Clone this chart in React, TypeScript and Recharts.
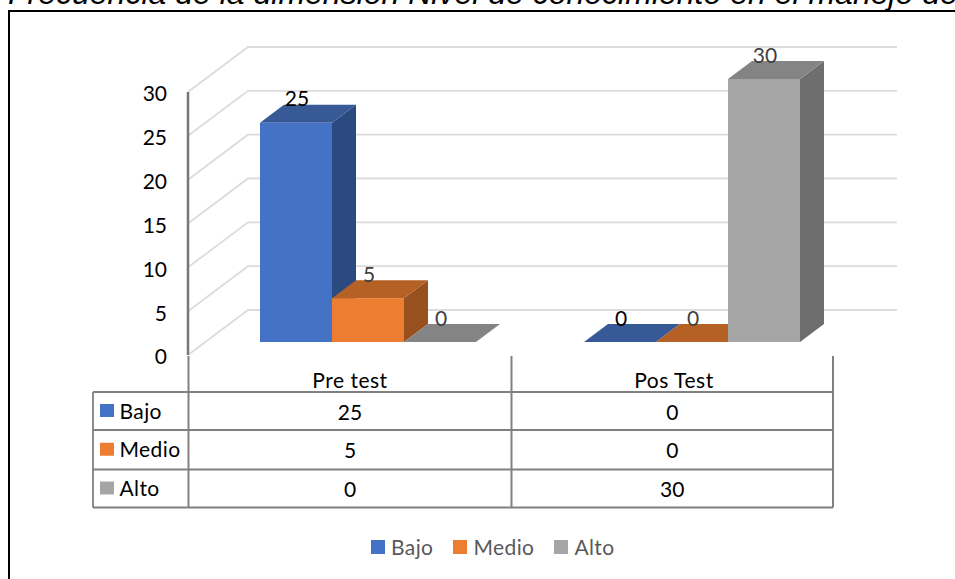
import { BarChart, Bar, XAxis, YAxis, CartesianGrid, LabelList, Legend } from "recharts";

const categories = ["Pre test", "Pos Test"];
const bajo = [25, 0];
const medio = [5, 0];
const alto = [0, 30];
const yTicks = [0, 5, 10, 15, 20, 25, 30];
const titleText = "Frecuencia de la dimensión Nivel de conocimiento en el manejo de";

const series = [
  { key: "Bajo", values: bajo, front: "#4472C4", top: "#375A96", side: "#2B4A80", label: "#000000" },
  { key: "Medio", values: medio, front: "#ED7D31", top: "#B56024", side: "#98511E", label: "#404040" },
  { key: "Alto", values: alto, front: "#A5A5A5", top: "#848484", side: "#6E6E6E", label: "#404040" },
];

const chartData = categories.map((name, i) => ({
  name,
  Bajo: bajo[i],
  Medio: medio[i],
  Alto: alto[i],
}));

const FONT = "Lato, sans-serif";
const FONT_SIZE = 21;
const TABLE_LINE = "#808080";

// 3D look: bars sit part way into the floor, the grid lines sit on the back wall
const BAR_DX = 18;
const BAR_DY = -13;
const DEPTH_X = 24;
const DEPTH_Y = 18;
const WALL_DX = 60;
const WALL_DY = -45;
const GRID_END = 897;

function makeBox(top: string, side: string) {
  return function Box(props: any) {
    const { x, y, width, height, fill } = props;
    const l = x + BAR_DX;
    const r = l + width;
    const t = y + BAR_DY;
    const b = t + height;
    return (
      <g>
        <polygon points={`${r},${t} ${r + DEPTH_X},${t - DEPTH_Y} ${r + DEPTH_X},${b - DEPTH_Y} ${r},${b}`} fill={side} />
        <polygon points={`${l},${t} ${l + DEPTH_X},${t - DEPTH_Y} ${r + DEPTH_X},${t - DEPTH_Y} ${r},${t}`} fill={top} />
        <rect x={l} y={t} width={width} height={height} fill={fill} />
      </g>
    );
  };
}

function makeBarLabel(color: string) {
  return function BarLabel(props: any) {
    const { x, y, width, value } = props;
    return (
      <text
        x={x + width / 2 + BAR_DX + 1}
        y={y + BAR_DY - 25}
        textAnchor="middle"
        dominantBaseline="central"
        fontFamily={FONT}
        fontSize={FONT_SIZE}
        fill={color}
      >
        {value}
      </text>
    );
  };
}

function WallLine(props: any) {
  const { x1, y1 } = props;
  return (
    <polyline
      points={`${x1},${y1} ${x1 + WALL_DX},${y1 + WALL_DY} ${GRID_END},${y1 + WALL_DY}`}
      fill="none"
      stroke="#DCDCDC"
      strokeWidth={1.8}
    />
  );
}

const tableLeft = 93;
const colX = [188.5, 511.5, 833];
const rowY = [392, 430, 469.5, 507.5];
const tableTop = 356;

function DataTable() {
  return (
    <g fontFamily={FONT} fontSize={FONT_SIZE} fill="#000000">
      {rowY.map((y) => (
        <line key={y} x1={tableLeft} x2={colX[2]} y1={y} y2={y} stroke={TABLE_LINE} strokeWidth={2} />
      ))}
      <line x1={tableLeft} x2={tableLeft} y1={rowY[0]} y2={rowY[3]} stroke={TABLE_LINE} strokeWidth={1.8} />
      {colX.map((x) => (
        <line key={x} x1={x} x2={x} y1={tableTop} y2={rowY[3]} stroke={TABLE_LINE} strokeWidth={2} />
      ))}
      {series.map((s, i) => {
        const cy = (rowY[i] + rowY[i + 1]) / 2;
        return (
          <g key={s.key}>
            <rect x={100} y={cy - 7} width={14} height={13} fill={s.front} />
            <text x={119.5} y={cy - 1} dominantBaseline="central" letterSpacing={0.4}>{s.key}</text>
            {s.values.map((v, j) => (
              <text key={j} x={(colX[j] + colX[j + 1]) / 2} y={cy} textAnchor="middle" dominantBaseline="central">
                {v}
              </text>
            ))}
          </g>
        );
      })}
    </g>
  );
}

function ChartLegend({ payload }: any) {
  return (
    <div style={{ display: "flex", fontFamily: FONT, fontSize: FONT_SIZE, letterSpacing: 0.4, color: "#595959", lineHeight: "26px" }}>
      {(payload || []).map((item: any) => (
        <div key={item.value} style={{ display: "flex", alignItems: "center", marginRight: 20 }}>
          <span style={{ width: 14, height: 14, background: item.color, marginRight: 6 }} />
          {item.value}
        </div>
      ))}
    </div>
  );
}

export default function App() {
  return (
    <div style={{ position: "fixed", left: 0, top: 0, width: 955, height: 579, overflow: "hidden", background: "#fff" }}>
      <div
        style={{
          position: "absolute",
          left: 8,
          top: -25,
          whiteSpace: "nowrap",
          fontFamily: "'Liberation Sans', sans-serif",
          fontStyle: "italic",
          fontSize: 32,
          color: "#000",
        }}
      >
        {titleText}
      </div>
      <div
        style={{
          position: "absolute",
          left: 8,
          top: 10,
          width: 960,
          height: 580,
          borderLeft: "2px solid #000",
          borderTop: "2px solid #000",
        }}
      />
      <div style={{ position: "absolute", left: 0, top: 0 }}>
        <BarChart
          width={955}
          height={579}
          data={chartData}
          barSize={72}
          barGap={0}
          margin={{ top: 92, right: 119, bottom: 194, left: 128 }}
        >
          <CartesianGrid vertical={false} horizontal={WallLine as any} />
          <XAxis
            dataKey="name"
            height={30}
            axisLine={false}
            tickLine={false}
            tickMargin={12}
            tick={{ fontSize: FONT_SIZE, fontFamily: FONT, fill: "#000", letterSpacing: 0.5 }}
          />
          <YAxis
            width={60}
            domain={[0, 30]}
            ticks={yTicks}
            interval={0}
            tickLine={false}
            tickMargin={15}
            axisLine={{ stroke: "#777777", strokeWidth: 2.5 }}
            tick={{ fontSize: FONT_SIZE, fontFamily: FONT, fill: "#000", dy: 2 }}
          />
          {series.map((s) => (
            <Bar
              key={s.key}
              dataKey={s.key}
              name={s.key}
              fill={s.front}
              isAnimationActive={false}
              shape={makeBox(s.top, s.side)}
            >
              <LabelList dataKey={s.key} content={makeBarLabel(s.label)} />
            </Bar>
          ))}
          <Legend
            layout="horizontal"
            verticalAlign="middle"
            itemSorter={null}
            content={<ChartLegend />}
            wrapperStyle={{ left: 371, top: 534, width: 300 }}
          />
          <DataTable />
        </BarChart>
      </div>
    </div>
  );
}
